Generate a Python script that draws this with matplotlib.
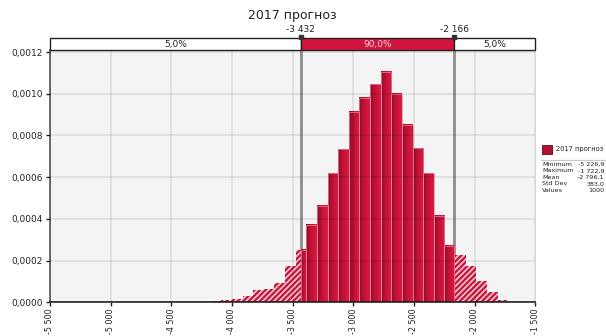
import numpy as np
import matplotlib
matplotlib.use('Agg')
import matplotlib.pyplot as plt
from matplotlib.colors import LinearSegmentedColormap
from matplotlib.patches import Rectangle
from matplotlib.ticker import MultipleLocator, FuncFormatter

title = '2017 прогноз'

# histogram: 40 equal bins between the simulated min and max
x_min, x_max = -5226.92, -1722.95
n_bins = 40
density = [0, 0, 0, 0, 0, 0, 0, 0, 0, 0, 0, 0,
           0.000005, 0.000010, 0.000018, 0.000029, 0.000059, 0.000062,
           0.000091, 0.000174, 0.000253, 0.000370, 0.000462, 0.000618,
           0.000733, 0.000914, 0.000979, 0.001045, 0.001106, 0.000998,
           0.000850, 0.000738, 0.000618, 0.000413, 0.000269, 0.000229,
           0.000173, 0.000101, 0.000047, 0.000010]

# 5% / 95% cut points
p_lo, p_hi = -3432, -2166
p_lo_lbl, p_hi_lbl = '-3 432', '-2 166'
pct_labels = ['5,0%', '90,0%', '5,0%']

stat_names = ['Minimum', 'Maximum', 'Mean', 'Std Dev', 'Values']
stat_values = ['-5 226,9', '-1 722,9', '-2 796,1', '383,0', '1000']

crimson = '#d3143c'
txt = '#222222'
W, H = 606, 336

plt.rcParams['font.family'] = 'DejaVu Sans'
plt.rcParams['hatch.linewidth'] = 1.6

fig = plt.figure(figsize=(W / 100, H / 100), dpi=100)
ax = fig.add_axes([50 / W, 1 - 302.3 / H, 485.3 / W, 252.3 / H])
ax.set_facecolor('#f4f4f4')

edges = np.linspace(x_min, x_max, n_bins + 1)
cmap = LinearSegmentedColormap.from_list('bar', ['#940b29', '#c51236', '#db1b43'])
grad = np.linspace(0, 1, 32).reshape(1, -1)

for x0, x1, h in zip(edges[:-1], edges[1:], density):
    if h <= 0:
        continue
    # tails outside the 90% band are hatched
    for a, b in [(x0, min(x1, p_lo)), (max(x0, p_hi), x1)]:
        if b > a:
            ax.bar(a, h, width=b - a, align='edge', facecolor='#f3c6d0',
                   edgecolor='#c8143a', hatch='//////', linewidth=0, zorder=2)
    a, b = max(x0, p_lo), min(x1, p_hi)
    if b > a:
        ax.imshow(grad, cmap=cmap, extent=(a, b, 0, h), aspect='auto',
                  interpolation='bilinear', zorder=2)
        ax.add_patch(Rectangle((a, 0), b - a, h, fill=False,
                               edgecolor='#e48a9f', lw=0.5, zorder=2.1))

for p in (p_lo, p_hi):
    ax.axvline(p, color='#8c8c8c', lw=2, zorder=1.5)

ax.set_xlim(-5500, -1500)
ax.set_ylim(0, 0.00121)
ax.xaxis.set_major_locator(MultipleLocator(500))
ax.yaxis.set_major_locator(MultipleLocator(0.0002))
ax.xaxis.set_major_formatter(FuncFormatter(lambda v, _: f'{int(round(v)):,}'.replace(',', ' ')))
ax.yaxis.set_major_formatter(FuncFormatter(lambda v, _: f'{v:.4f}'.replace('.', ',')))
ax.tick_params(axis='x', labelrotation=90, labelsize=5.8, length=3, width=1,
               colors=txt, pad=1.5)
ax.tick_params(axis='y', labelsize=6.5, length=3, width=1, colors=txt, pad=2)
ax.grid(True, color='black', alpha=0.09, lw=1.2)
ax.set_axisbelow(False)
ax.spines['top'].set_visible(False)
ax.spines['right'].set_color('#d8d8d8')
ax.spines['left'].set_color('#555555')
ax.spines['bottom'].set_color('#222222')
ax.spines['left'].set_linewidth(1.2)
ax.spines['bottom'].set_linewidth(1.2)

# percentile band above the chart
pax = fig.add_axes([50 / W, 1 - 50 / H, 485.3 / W, 11.7 / H])
pax.set_xlim(-5500, -1500)
pax.set_ylim(0, 1)
pax.axis('off')
bounds = [-5500, p_lo, p_hi, -1500]
for i, lbl in enumerate(pct_labels):
    fc = crimson if i == 1 else 'white'
    pax.add_patch(Rectangle((bounds[i], 0), bounds[i + 1] - bounds[i], 1,
                            facecolor=fc, edgecolor='#222222', lw=1, clip_on=False))
    pax.text((bounds[i] + bounds[i + 1]) / 2, 0.45, lbl, ha='center', va='center',
             fontsize=6.5, color='#ffd6de' if i == 1 else txt)
pax.plot([p_lo, p_hi], [1.12, 1.12], 's', ms=3.2, color='#333333', clip_on=False)
pax.text(p_lo, 1.35, p_lo_lbl, ha='center', va='bottom', fontsize=6.5, color=txt)
pax.text(p_hi, 1.35, p_hi_lbl, ha='center', va='bottom', fontsize=6.5, color=txt)

fig.text(292.6 / W, 1 - 16 / H, title, ha='center', va='center', fontsize=9, color=txt)

# legend and summary statistics on the right
lax = fig.add_axes([0, 0, 1, 1])
lax.set_xlim(0, W)
lax.set_ylim(H, 0)
lax.axis('off')
lax.add_patch(Rectangle((542, 144.5), 10, 9, facecolor='#b3102f', edgecolor='#5a0a18', lw=0.6))
lax.text(556, 149, title, ha='left', va='center', fontsize=4.8, color=txt)
lax.plot([541, W], [159.5, 159.5], color='#c8c8c8', lw=0.8)
for i, (n, v) in enumerate(zip(stat_names, stat_values)):
    y = 164.3 + i * 6.5
    lax.text(542, y, n, ha='left', va='center', fontsize=4.6, color=txt)
    lax.text(604, y, v, ha='right', va='center', fontsize=4.6, color=txt)

fig.savefig('out.png', dpi=100)
